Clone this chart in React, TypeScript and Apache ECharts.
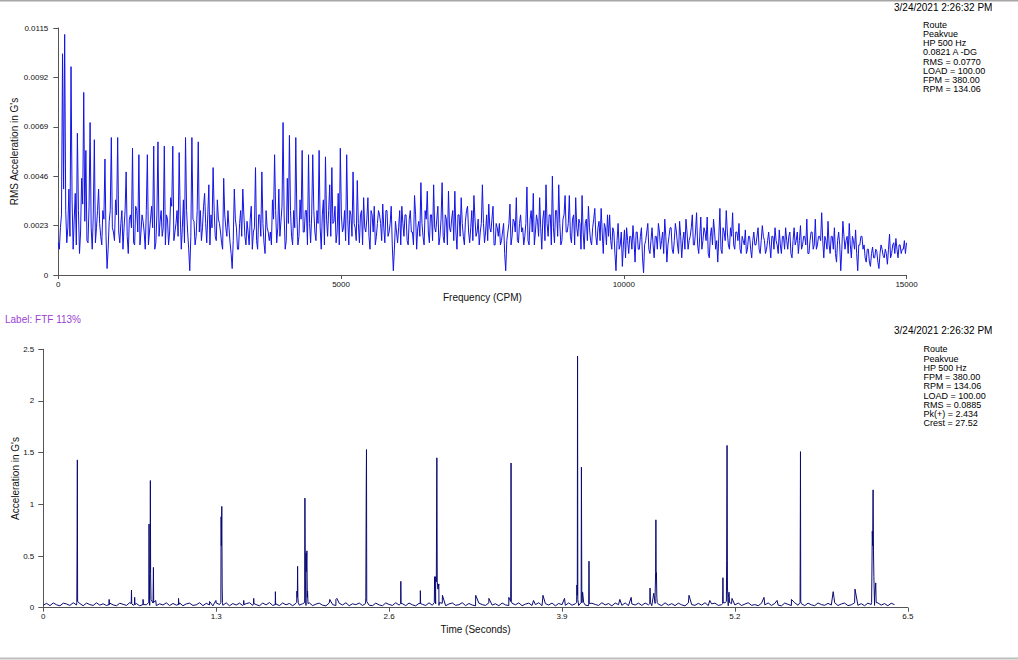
import React, { useEffect, useRef } from "react";
import * as echarts from "echarts";

// ---------- Spectrum (top) ----------
// amplitude in units of 0.0001 G, one value every 37.5 CPM from 0 to 15000
const SPEC_STEP_CPM = 37.5;
const specValues: number[] = [
  15, 22, 103, 112, 15, 40, 97, 12, 38, 66, 10, 45, 85, 58, 15, 71, 12, 63, 22, 40,
  18, 30, 54, 3, 25, 64, 20, 35, 64, 15, 30, 22, 48, 10, 28, 59, 14, 30, 56, 20,
  25, 12, 56, 20, 32, 60, 15, 62, 25, 18, 60, 28, 14, 36, 60, 20, 30, 57, 12, 35,
  64, 20, 2, 64, 25, 18, 62, 30, 22, 38, 15, 42, 28, 50, 18, 35, 24, 15, 45, 22,
  30, 15, 3, 40, 22, 12, 30, 40, 18, 25, 14, 32, 20, 50, 12, 28, 48, 15, 30, 20,
  20, 35, 56, 15, 40, 25, 71, 12, 45, 65, 18, 30, 64, 14, 35, 58, 20, 30, 56, 15,
  56, 20, 30, 58, 12, 35, 55, 18, 42, 50, 25, 15, 38, 59, 20, 30, 56, 14, 28, 48,
  22, 44, 15, 30, 36, 20, 36, 12, 28, 32, 18, 30, 24, 33, 15, 30, 20, 32, 2, 25,
  15, 30, 32, 18, 28, 14, 30, 20, 37, 12, 25, 43, 18, 30, 39, 15, 28, 42, 20, 32,
  18, 43, 15, 26, 39, 20, 30, 39, 12, 28, 36, 18, 25, 32, 15, 30, 37, 18, 26, 20,
  42, 15, 28, 33, 20, 32, 14, 22, 24, 16, 24, 2, 20, 33, 18, 25, 36, 15, 28, 22,
  18, 41, 14, 30, 38, 20, 25, 36, 12, 30, 42, 18, 28, 46, 15, 30, 42, 14, 26, 37,
  20, 37, 15, 28, 36, 18, 24, 37, 12, 26, 32, 16, 22, 31, 14, 25, 31, 10, 22, 28,
  28, 12, 20, 2, 24, 14, 4, 21, 22, 10, 18, 23, 6, 20, 12, 22, 1, 16, 24, 10,
  22, 8, 18, 24, 12, 20, 26, 6, 18, 22, 10, 24, 14, 25, 8, 20, 26, 12, 18, 28,
  14, 29, 10, 27, 16, 20, 27, 8, 22, 26, 12, 6, 31, 10, 20, 30, 14, 22, 29, 12,
  20, 24, 10, 16, 21, 12, 18, 8, 20, 14, 22, 10, 23, 16, 12, 20, 8, 18, 22, 14,
  21, 10, 18, 22, 12, 20, 8, 22, 16, 10, 23, 14, 18, 26, 10, 20, 12, 26, 14, 18,
  29, 8, 16, 25, 10, 18, 22, 6, 20, 2, 25, 12, 18, 24, 8, 16, 21, 2, 14, 18,
  14, 6, 12, 4, 13, 8, 11, 3, 14, 9, 12, 5, 19, 10, 15, 17, 8, 14, 12, 16,
  15,
];
// in-between bins (half a step after each value above), same units
const specFill: number[] = [
  12, 28, 40, 30, 22, 18, 35, 26, 14, 30, 20, 33, 25, 16, 32, 22, 28, 15, 30, 24,
  14, 26, 18, 12, 30, 22, 16, 28, 20, 24, 12, 30, 18, 26, 22, 15, 32, 20, 14, 28,
  20, 30, 14, 26, 22, 12, 28, 18, 30, 22, 14, 26, 20, 32, 16, 24, 18, 28, 22, 15,
  30, 12, 18, 26, 14, 30, 20, 16, 32, 24, 28, 14, 22, 30, 16, 26, 20, 12, 28, 18,
  22, 10, 16, 26, 12, 24, 18, 28, 14, 20, 26, 12, 22, 16, 28, 18, 24, 10, 22, 16,
  14, 26, 30, 22, 18, 32, 28, 16, 24, 30, 14, 22, 28, 18, 26, 20, 30, 14, 24, 28,
  30, 16, 24, 22, 28, 14, 26, 30, 18, 24, 32, 20, 14, 28, 22, 16, 26, 30, 18, 24,
  16, 24, 28, 14, 22, 26, 18, 30, 20, 14, 24, 28, 16, 22, 30, 18, 24, 14, 12, 20,
  22, 14, 24, 28, 16, 26, 20, 14, 28, 22, 18, 24, 14, 26, 20, 28, 16, 22, 26, 14,
  26, 18, 28, 14, 22, 26, 16, 20, 28, 18, 24, 14, 30, 20, 22, 16, 26, 20, 14, 24,
  24, 20, 16, 22, 26, 14, 24, 18, 14, 20, 10, 16, 24, 14, 26, 20, 16, 24, 20, 14,
  24, 16, 26, 20, 14, 28, 18, 22, 26, 16, 24, 28, 14, 22, 30, 18, 24, 16, 28, 20,
  24, 18, 26, 14, 22, 26, 12, 20, 24, 16, 22, 14, 26, 18, 22, 16, 20, 24, 14, 18,
  16, 22, 10, 16, 12, 20, 14, 8, 16, 18, 12, 16, 20, 12, 18, 8, 14, 20, 12, 16,
  14, 18, 12, 20, 16, 10, 18, 14, 22, 12, 16, 20, 10, 18, 16, 12, 20, 16, 22, 14,
  20, 14, 18, 12, 22, 16, 10, 18, 14, 20, 16, 18, 12, 22, 16, 20, 12, 18, 14, 20,
  16, 12, 18, 14, 10, 18, 12, 16, 14, 18, 12, 16, 18, 10, 16, 14, 18, 12, 16, 10,
  14, 18, 12, 16, 18, 10, 16, 14, 20, 16, 12, 18, 14, 10, 16, 20, 14, 12, 18, 16,
  16, 18, 12, 14, 18, 12, 10, 16, 14, 12, 18, 16, 10, 14, 18, 12, 10, 14, 18, 12,
  8, 12, 6, 10, 8, 12, 6, 10, 12, 8, 10, 12, 8, 14, 10, 12, 14, 10, 12, 10,
];
const specYTicks = [0, 0.0023, 0.0046, 0.0069, 0.0092, 0.0115];
const specXTicks = [0, 5000, 10000, 15000];

// ---------- Waveform (bottom) ----------
// baseline in thousandths of G, one value every 0.025 s from 0 to 6.4 s
const WAVE_STEP_S = 0.025;
const waveBase: number[] = [
  24, 42, 20, 46, 28, 18, 44, 36, 22, 48, 26, 40, 19, 45, 30, 22, 47, 25, 38, 21,
  44, 27, 19, 43, 33, 22, 49, 24, 40, 18, 46, 29, 23, 45, 20, 38, 26, 47, 21, 41,
  25, 46, 19, 37, 44, 22, 28, 48, 20, 42, 27, 18, 45, 31, 23, 47, 19, 40, 26, 44,
  21, 39, 48, 23, 30, 19, 45, 27, 50, 22, 36, 20, 46, 28, 41, 19, 43, 25, 38, 22,
  47, 20, 35, 44, 24, 18, 46, 30, 21, 43, 26, 48, 19, 38, 29, 45, 22, 41, 24, 20,
  44, 27, 19, 46, 31, 22, 48, 25, 39, 20, 45, 28, 18, 42, 33, 21, 47, 24, 37, 22,
  43, 19, 36, 46, 23, 29, 48, 20, 41, 26, 18, 44, 30, 22, 47, 25, 38, 19, 45, 27,
  21, 42, 28, 47, 19, 35, 44, 22, 30, 48, 20, 39, 26, 45, 18, 41, 29, 23, 46, 24,
  38, 21, 47, 25, 19, 43, 31, 22, 48, 27, 40, 18, 45, 29, 23, 46, 20, 37, 26, 44,
  22, 45, 28, 19, 41, 33, 21, 47, 24, 39, 20, 44, 27, 18, 46, 30, 23, 42, 25, 48,
  20, 37, 44, 22, 29, 47, 19, 40, 26, 45, 21, 35, 48, 23, 30, 19, 43, 27, 46, 22,
  41, 25, 18, 45, 32, 21, 47, 24, 38, 20, 44, 28, 19, 46, 30, 23, 42, 26, 48, 21,
  36, 45, 20, 28, 47, 23, 39, 19, 44, 31, 22, 46, 25, 40, 19, 43, 30,
];
// impacts: [time s, acceleration G]
const waveSpikes: [number, number][] = [
  [0.252, 0.05], [0.254, 0.62], [0.256, 1.43], [0.258, 0.06],
  [0.494, 0.03], [0.495, 0.08], [0.497, 0.03],
  [0.661, 0.04], [0.663, 0.17], [0.665, 0.04],
  [0.686, 0.03], [0.687, 0.1], [0.689, 0.03],
  [0.749, 0.03], [0.75, 0.08], [0.752, 0.03],
  [0.793, 0.05], [0.795, 0.81], [0.797, 0.33], [0.8, 0.3], [0.803, 0.33], [0.805, 1.23], [0.807, 0.32], [0.81, 0.08],
  [0.826, 0.05], [0.828, 0.39], [0.83, 0.05],
  [0.845, 0.07],
  [1.016, 0.03], [1.017, 0.09], [1.019, 0.03],
  [1.25, 0.06], [1.298, 0.07],
  [1.335, 0.05], [1.337, 0.88], [1.339, 0.6], [1.342, 0.98], [1.345, 0.2], [1.347, 0.05],
  [1.506, 0.03], [1.507, 0.07], [1.509, 0.03],
  [1.581, 0.04], [1.582, 0.09], [1.584, 0.04],
  [1.744, 0.03], [1.745, 0.155], [1.747, 0.03],
  [1.905, 0.05], [1.907, 0.16], [1.91, 0.1], [1.912, 0.4], [1.914, 0.1], [1.917, 0.05],
  [1.965, 0.05], [1.967, 1.06], [1.97, 0.3], [1.975, 0.53], [1.978, 0.35], [1.982, 0.55], [1.985, 0.1], [1.987, 0.16], [1.99, 0.04],
  [2.154, 0.08], [2.2, 0.08], [2.207, 0.09],
  [2.423, 0.04], [2.425, 0.1], [2.428, 1.14], [2.43, 1.53], [2.432, 0.06],
  [2.687, 0.04], [2.688, 0.255], [2.69, 0.04],
  [2.834, 0.04], [2.835, 0.165], [2.837, 0.04],
  [2.94, 0.05], [2.942, 0.3], [2.945, 0.2], [2.95, 0.3], [2.955, 0.25], [2.959, 1.45], [2.962, 0.25], [2.967, 0.18], [2.974, 0.23], [2.977, 0.05],
  [3.001, 0.12], [3.251, 0.12], [3.35, 0.09],
  [3.5, 0.1], [3.514, 0.06], [3.516, 0.51], [3.517, 1.4], [3.519, 0.06],
  [3.686, 0.07], [3.757, 0.12], [3.919, 0.09],
  [4.01, 0.05], [4.012, 0.22], [4.015, 0.12], [4.017, 2.434], [4.019, 0.08],
  [4.044, 0.05], [4.046, 1.36], [4.049, 0.1], [4.055, 0.15], [4.06, 0.15], [4.063, 0.05],
  [4.101, 0.04], [4.103, 0.45], [4.105, 0.04],
  [4.335, 0.08], [4.42, 0.1],
  [4.56, 0.04], [4.562, 0.19], [4.565, 0.05],
  [4.59, 0.14], [4.6, 0.12], [4.604, 0.34], [4.606, 0.85], [4.608, 0.3], [4.61, 0.34], [4.613, 0.1], [4.616, 0.05],
  [4.855, 0.12], [5.011, 0.07],
  [5.108, 0.04], [5.11, 0.29], [5.112, 0.05],
  [5.136, 0.06], [5.138, 0.46], [5.141, 1.57], [5.144, 0.2], [5.15, 0.1], [5.156, 0.15], [5.16, 0.05],
  [5.178, 0.09], [5.419, 0.1], [5.517, 0.07], [5.625, 0.08],
  [5.69, 0.05], [5.692, 0.93], [5.693, 1.51], [5.695, 0.06],
  [5.939, 0.155], [5.945, 0.1], [6.103, 0.18],
  [6.228, 0.05], [6.231, 0.45], [6.233, 0.74], [6.236, 0.6], [6.239, 1.14], [6.242, 0.55], [6.245, 0.3], [6.25, 0.1], [6.259, 0.24], [6.262, 0.05],
];
const waveYTicks = [0, 0.5, 1, 1.5, 2, 2.5];
const waveXTicks = [0, 1.3, 2.6, 3.9, 5.2, 6.5];

// ---------- Texts ----------
const stampText = "3/24/2021 2:26:32 PM";
const specInfo = ["Route", "Peakvue", "HP 500 Hz", "0.0821 A -DG", "RMS = 0.0770", "LOAD = 100.00", "FPM = 380.00", "RPM = 134.06"];
const waveInfo = ["Route", "Peakvue", "HP 500 Hz", "FPM = 380.00", "RPM = 134.06", "LOAD = 100.00", "RMS = 0.0885", "Pk(+) = 2.434", "Crest = 27.52"];
const labelText = "Label: FTF 113%";

const FONT = 'Arial, "Liberation Sans", sans-serif';

export default function App() {
  const ref = useRef<HTMLDivElement>(null);

  useEffect(() => {
    if (!ref.current) return;
    const chart = echarts.init(ref.current, null, { renderer: "svg" });

    const specData: number[][] = [];
    specValues.forEach((v, i) => {
      specData.push([i * SPEC_STEP_CPM, v / 10000]);
      if (i < specFill.length) specData.push([(i + 0.5) * SPEC_STEP_CPM, specFill[i] / 10000]);
    });
    const baseData = waveBase.map((v, i) => [+(i * WAVE_STEP_S).toFixed(3), v / 1000]);
    const waveData = [...baseData, ...waveSpikes.map((p) => [p[0], p[1]])].sort((a, b) => a[0] - b[0]);

    const axisLine = { show: true, lineStyle: { color: "#555", width: 1 } };
    const labelStyle = { color: "#111", fontSize: 8, fontFamily: FONT };
    const nameStyle = { color: "#111", fontSize: 10, fontFamily: FONT };

    const textEl = (text: string, x: number, y: number, size: number, fill = "#000") => ({
      type: "text",
      x,
      y,
      silent: true,
      style: { text, fill, fontSize: size, fontFamily: FONT, textVerticalAlign: "middle", textAlign: "left" },
    });

    const graphics: any[] = [
      { type: "rect", shape: { x: 0, y: 0, width: 1018, height: 1.5 }, style: { fill: "#a6a6a6" }, silent: true },
      { type: "rect", shape: { x: 0, y: 657.5, width: 1018, height: 2 }, style: { fill: "#bdbdbd" }, silent: true },
      textEl(stampText, 894, 7.5, 10),
      ...specInfo.map((t, i) => textEl(t, 923, 25 + i * 9.15, 9)),
      textEl(labelText, 5, 319, 10, "#9b3fd2"),
      textEl(stampText, 894, 330.7, 10),
      ...waveInfo.map((t, i) => textEl(t, 923.5, 349.3 + i * 9.25, 9)),
    ];

    chart.setOption({
      animation: false,
      backgroundColor: "#fff",
      grid: [
        { left: 58.3, top: 28, width: 848.2, height: 247, containLabel: false, outerBoundsMode: "none" },
        { left: 43.3, top: 349.3, width: 864.5, height: 258.4, containLabel: false, outerBoundsMode: "none" },
      ],
      xAxis: [
        {
          type: "value",
          gridIndex: 0,
          min: specXTicks[0],
          max: specXTicks[specXTicks.length - 1],
          interval: specXTicks[1] - specXTicks[0],
          name: "Frequency (CPM)",
          nameLocation: "middle",
          nameGap: 17,
          nameMoveOverlap: false,
          nameTextStyle: nameStyle,
          axisLine,
          axisTick: { show: true, length: 4, lineStyle: { color: "#555" } },
          axisLabel: { ...labelStyle, margin: 5, formatter: (v: number) => String(v) },
          splitLine: { show: false },
        },
        {
          type: "value",
          gridIndex: 1,
          min: waveXTicks[0],
          max: waveXTicks[waveXTicks.length - 1],
          interval: 1.3,
          name: "Time (Seconds)",
          nameLocation: "middle",
          nameGap: 17,
          nameMoveOverlap: false,
          nameTextStyle: nameStyle,
          axisLine,
          axisTick: { show: true, length: 4, lineStyle: { color: "#555" } },
          axisLabel: { ...labelStyle, margin: 5, formatter: (v: number) => String(+v.toFixed(2)) },
          splitLine: { show: false },
        },
      ],
      yAxis: [
        {
          type: "value",
          gridIndex: 0,
          min: specYTicks[0],
          max: specYTicks[specYTicks.length - 1],
          interval: specYTicks[1],
          name: "RMS Acceleration in G's",
          nameLocation: "middle",
          nameGap: 39,
          nameMoveOverlap: false,
          nameTextStyle: nameStyle,
          axisLine,
          axisTick: { show: true, length: 5, lineStyle: { color: "#555" } },
          axisLabel: {
            ...labelStyle,
            margin: 10,
            formatter: (v: number) => (v === 0 ? "0" : v.toFixed(4)),
          },
          splitLine: { show: false },
        },
        {
          type: "value",
          gridIndex: 1,
          min: waveYTicks[0],
          max: waveYTicks[waveYTicks.length - 1],
          interval: waveYTicks[1],
          name: "Acceleration in G's",
          nameLocation: "middle",
          nameGap: 23,
          nameMoveOverlap: false,
          nameTextStyle: nameStyle,
          axisLine,
          axisTick: { show: true, length: 5, lineStyle: { color: "#555" } },
          axisLabel: { ...labelStyle, margin: 9 },
          splitLine: { show: false },
        },
      ],
      series: [
        {
          type: "line",
          xAxisIndex: 0,
          yAxisIndex: 0,
          data: specData,
          showSymbol: false,
          symbol: "none",
          lineStyle: { color: "#1414e6", width: 1 },
          silent: true,
        },
        {
          type: "line",
          xAxisIndex: 1,
          yAxisIndex: 1,
          data: waveData,
          showSymbol: false,
          symbol: "none",
          lineStyle: { color: "#0a0a72", width: 1 },
          silent: true,
        },
      ],
      graphic: graphics,
    });

    return () => chart.dispose();
  }, []);

  return (
    <div
      ref={ref}
      style={{ position: "absolute", left: 0, top: 0, width: 1018, height: 660, background: "#fff" }}
    />
  );
}
